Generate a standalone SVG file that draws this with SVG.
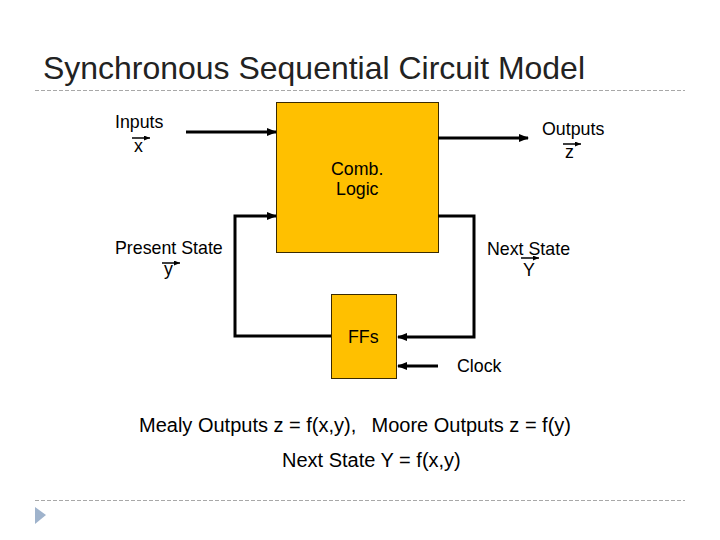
<svg xmlns="http://www.w3.org/2000/svg" width="720" height="540" viewBox="0 0 720 540">
<style>
text{font-family:"Liberation Sans",Arial,sans-serif;fill:#000}
.lbl{font-size:17.8px}
.big{font-size:20px}
.box{fill:#FFC000;stroke:#3a2a00;stroke-width:1}
.wire{fill:none;stroke:#000;stroke-width:3}
.vec{stroke:#000;stroke-width:1.5;fill:none}
.dash{stroke:#a8a8a8;stroke-width:1;stroke-dasharray:4,2}
</style>
<defs>
<marker id="ah" markerWidth="10" markerHeight="8" refX="9" refY="4" orient="auto" markerUnits="userSpaceOnUse">
<path d="M0,0 L10,4 L0,8 Z" fill="#000"/>
</marker>
<marker id="sa" markerWidth="6" markerHeight="5" refX="6" refY="2.5" orient="auto" markerUnits="userSpaceOnUse">
<path d="M0,0 L6,2.5 L0,5 Z" fill="#000"/>
</marker>
</defs>
<rect width="720" height="540" fill="#fff"/>
<text x="43" y="79" style="font-size:31.5px;fill:#222" textLength="542" lengthAdjust="spacingAndGlyphs">Synchronous Sequential Circuit Model</text>
<line class="dash" x1="35" y1="90.5" x2="685" y2="90.5"/>
<line class="dash" x1="35" y1="500.5" x2="685" y2="500.5"/>
<path d="M35,507 L46,515 L35,524 Z" fill="#9fb3cc"/>

<g id="comb">
<rect class="box" x="276.5" y="102.5" width="162" height="150"/>
<text class="lbl" x="331" y="175">Comb.</text>
<text class="lbl" x="336" y="195">Logic</text>
</g>
<g id="ffs">
<rect class="box" x="331.5" y="294.5" width="65" height="84"/>
<text class="lbl" x="348" y="343">FFs</text>
</g>

<g id="connectors">
<line class="wire" x1="186" y1="132" x2="276" y2="132" marker-end="url(#ah)"/>
<line class="wire" x1="438" y1="138" x2="528" y2="138" marker-end="url(#ah)"/>
<polyline class="wire" points="331,336 235,336 235,216 276,216" marker-end="url(#ah)"/>
<polyline class="wire" points="438,216 474,216 474,337 398,337" marker-end="url(#ah)"/>
<line class="wire" x1="438" y1="366" x2="398" y2="366" marker-end="url(#ah)"/>
</g>

<g id="labels">
<text class="lbl" x="115" y="128">Inputs</text>
<text class="lbl" x="134" y="152">x</text>
<line class="vec" x1="132" y1="138" x2="150" y2="138" marker-end="url(#sa)"/>

<text class="lbl" x="542" y="135">Outputs</text>
<text class="lbl" x="565" y="158">z</text>
<line class="vec" x1="563" y1="144" x2="581" y2="144" marker-end="url(#sa)"/>

<text class="lbl" x="115" y="254">Present State</text>
<text class="lbl" x="164" y="275">y</text>
<line class="vec" x1="162" y1="263" x2="180" y2="263" marker-end="url(#sa)"/>

<text class="lbl" x="487" y="255">Next State</text>
<text class="lbl" x="523" y="276">Y</text>
<line class="vec" x1="521" y1="258" x2="539" y2="258" marker-end="url(#sa)"/>

<text class="lbl" x="457" y="372">Clock</text>

<text class="big" x="139" y="432">Mealy Outputs z = f(x,y),</text>
<text class="big" x="571" y="432" text-anchor="end">Moore Outputs z = f(y)</text>
<text class="big" x="282" y="467">Next State Y = f(x,y)</text>
</g>
</svg>
